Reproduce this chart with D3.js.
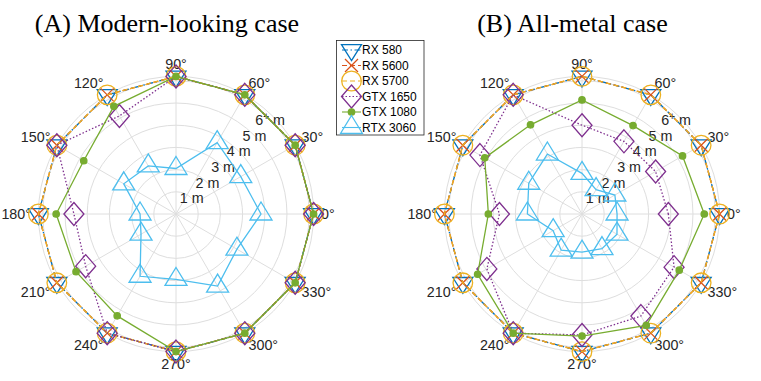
<!DOCTYPE html>
<html><head><meta charset="utf-8">
<script src="https://cdn.jsdelivr.net/npm/d3@7"></script>
<style>body{margin:0;background:#fff}svg{display:block}</style>
</head><body><svg id="c" width="761" height="381"></svg>
<script>
// ---------------- data ----------------
const angles = [0, 30, 60, 90, 120, 150, 180, 210, 240, 270, 300, 330];
const thetaTickLabels = ["0°","30°","60°","90°","120°","150°","180°","210°","240°","270°","300°","330°"];
const rTicks = [1, 2, 3, 4, 5, 6];
const rTickLabels = ["1", "2", "3", "4", "5", "6"];
const rMax = 6.2;
const seriesNames = ["RX 580", "RX 5600", "RX 5700", "GTX 1650", "GTX 1080", "RTX 3060"];
const titles = ["(A) Modern-looking case", "(B) All-metal case"];

// Panel A: Modern-looking case (distance in m, 6.2 = "6+ m")
const a_rx580  = [6.2, 6.2, 6.2, 6.2, 6.2, 6.2, 6.2, 6.2, 6.2, 6.2, 6.2, 6.2];
const a_rx5600 = [6.2, 6.2, 6.2, 6.2, 6.2, 6.2, 6.2, 6.2, 6.2, 6.2, 6.2, 6.2];
const a_rx5700 = [6.2, 6.2, 6.2, 6.2, 6.2, 6.2, 6.2, 6.2, 6.2, 6.2, 6.2, 6.2];
const a_gtx1650 = [6.2, 6.2, 6.2, 6.2, 5.1, 6.2, 4.6, 4.7, 6.2, 6.2, 6.2, 6.2];
const a_gtx1080 = [6.2, 6.2, 6.2, 6.2, 5.6, 4.8, 5.4, 5.2, 5.3, 6.2, 6.2, 6.2];
const a_rtx3060 = [3.83, 3.37, 3.71, 2.05, 2.5, 2.72, 1.62, 1.82, 3.24, 2.95, 3.75, 3.17];

// Panel B: All-metal case
const b_rx580  = [6.2, 6.2, 6.2, 6.2, 6.2, 6.2, 6.2, 6.2, 6.2, 6.2, 6.2, 6.2];
const b_rx5600 = [6.2, 6.2, 6.2, 6.2, 6.2, 6.2, 6.2, 6.2, 6.2, 6.2, 6.2, 6.2];
const b_rx5700 = [6.2, 6.2, 6.2, 6.2, 6.2, 6.2, 6.2, 6.2, 6.2, 6.2, 6.2, 6.2];
const b_gtx1650 = [3.89, 3.83, 3.78, 4.0, 6.2, 5.31, 3.72, 4.95, 6.2, 5.45, 5.31, 4.79];
const b_gtx1080 = [5.51, 5.23, 4.6, 5.14, 4.64, 5.06, 4.22, 5.43, 6.2, 5.5, 5.79, 5.06];
const b_rtx3060 = [1.58, 1.71, 1.27, 1.83, 3.12, 2.77, 2.46, 1.5, 1.88, 1.72, 1.8, 1.82];

// ---------------- styles ----------------
const colors = ["#0072BD", "#D95319", "#EDB120", "#7E2F8E", "#77AC30", "#4DBEEE"];
const dashes = ["6,2.5,1.5,2.5", "5,3", "5,3", "1.5,2", null, null];
const markers = ["tridown", "x", "circle", "diamond", "dot", "triup"];

const panels = [
  {cx: 176, cy: 214, title: titles[0], tx: 167,
   data: [a_rx580, a_rx5600, a_rx5700, a_gtx1650, a_gtx1080, a_rtx3060]},
  {cx: 582, cy: 214, title: titles[1], tx: 572.5,
   data: [b_rx580, b_rx5600, b_rx5700, b_gtx1650, b_gtx1080, b_rtx3060]}
];

const svg = d3.select("#c");
const r = d3.scaleLinear().domain([0, rMax]).range([0, 137.6]);
const ang = d3.scaleLinear().domain([0, 360]).range([Math.PI / 2, Math.PI / 2 - 2 * Math.PI]);
const gridColor = "#dedede";
const textColor = "#262626";
const fs = 14.3;

function markerPath(type) {
  const p = d3.path();
  switch (type) {
    case "tridown": p.moveTo(0, 10.6); p.lineTo(10, -5.3); p.lineTo(-10, -5.3); p.closePath(); break;
    case "triup": p.moveTo(0, -12); p.lineTo(11, 6); p.lineTo(-11, 6); p.closePath(); break;
    case "x": p.moveTo(-6.5, -6.5); p.lineTo(6.5, 6.5); p.moveTo(-6.5, 6.5); p.lineTo(6.5, -6.5); break;
    case "circle": p.arc(0, 0, 9.8, 0, 2 * Math.PI); break;
    case "diamond": p.moveTo(0, -11.5); p.lineTo(10, 0); p.lineTo(0, 11.5); p.lineTo(-10, 0); p.closePath(); break;
    case "dot": p.arc(0, 0, 3.2, 0, 2 * Math.PI); break;
  }
  return p.toString();
}

panels.forEach(P => {
  const g = svg.append("g").attr("transform", `translate(${P.cx},${P.cy})`);
  // grid rings
  g.selectAll("circle.ring").data(rTicks.concat([rMax])).join("circle")
    .attr("r", d => r(d)).attr("fill", "none").attr("stroke", gridColor).attr("stroke-width", 1);
  // spokes
  g.selectAll("line.spoke").data(angles).join("line")
    .attr("x1", 0).attr("y1", 0)
    .attr("x2", d => r(rMax) * Math.sin(ang(d)))
    .attr("y2", d => -r(rMax) * Math.cos(ang(d)))
    .attr("stroke", gridColor).attr("stroke-width", 1);
  // theta labels
  const R = 145, cap = fs * 0.72;
  angles.forEach((d, i) => {
    const t = d * Math.PI / 180, c = Math.cos(t), s = Math.sin(t);
    const x = R * c, y = -R * s;
    const anchor = Math.abs(c) < 0.01 ? "middle" : (c > 0 ? "start" : "end");
    const by = Math.abs(s) < 0.01 ? y + cap / 2 : (s > 0 ? y : y + cap);
    g.append("text").attr("x", x).attr("y", by).attr("text-anchor", anchor)
      .attr("font-family", "Liberation Sans, Arial, sans-serif").attr("font-size", fs)
      .attr("fill", textColor).text(thetaTickLabels[i]);
  });
  // r labels along 45°
  rTicks.forEach((d, i) => {
    const t = Math.PI / 4;
    const x = r(d) * Math.cos(t), y = -r(d) * Math.sin(t);
    const tx = g.append("text").attr("x", x).attr("y", y + cap / 2).attr("text-anchor", "middle")
      .attr("font-family", "Liberation Sans, Arial, sans-serif").attr("font-size", fs)
      .attr("fill", textColor);
    tx.append("tspan").text(rTickLabels[i]);
    if (i === rTicks.length - 1) {
      tx.append("tspan").attr("dy", -5).attr("font-size", fs * 0.7).text("+");
      tx.append("tspan").attr("dy", 5).text(" m");
    } else {
      tx.append("tspan").text(" m");
    }
  });
  // series
  const line = d3.lineRadial().angle((d, i) => ang(angles[i])).radius(d => r(d)).curve(d3.curveLinearClosed);
  P.data.forEach((vals, k) => {
    g.append("path").attr("d", line(vals)).attr("fill", "none")
      .attr("stroke", colors[k]).attr("stroke-width", 1.3)
      .attr("stroke-dasharray", dashes[k]);
    g.selectAll(null).data(vals).join("path")
      .attr("transform", (d, i) => `translate(${r(d) * Math.sin(ang(angles[i]))},${-r(d) * Math.cos(ang(angles[i]))})`)
      .attr("d", markerPath(markers[k]))
      .attr("fill", markers[k] === "dot" ? colors[k] : "none")
      .attr("stroke", colors[k]).attr("stroke-width", 1.3);
  });
  // title
  svg.append("text").attr("x", P.tx).attr("y", 32).attr("text-anchor", "middle")
    .attr("font-family", "Liberation Serif, Times New Roman, serif").attr("font-size", 26)
    .attr("fill", "#000").text(P.title);
});

// legend
const lg = svg.append("g");
lg.append("rect").attr("x", 336.5).attr("y", 40.5).attr("width", 87.5).attr("height", 94.5)
  .attr("fill", "#fff").attr("stroke", "#262626").attr("stroke-width", 0.8);
seriesNames.forEach((name, k) => {
  const y = 50 + k * 15.5;
  lg.append("line").attr("x1", 342).attr("x2", 361).attr("y1", y).attr("y2", y)
    .attr("stroke", colors[k]).attr("stroke-width", 1.1).attr("stroke-dasharray", dashes[k]);
  lg.append("path").attr("transform", `translate(351.5,${y})`).attr("d", markerPath(markers[k]))
    .attr("fill", markers[k] === "dot" ? colors[k] : "none")
    .attr("stroke", colors[k]).attr("stroke-width", 1.3);
  lg.append("text").attr("x", 362).attr("y", y + 4.3)
    .attr("font-family", "Liberation Sans, Arial, sans-serif").attr("font-size", 12)
    .attr("fill", "#000").text(name);
});
</script></body></html>
